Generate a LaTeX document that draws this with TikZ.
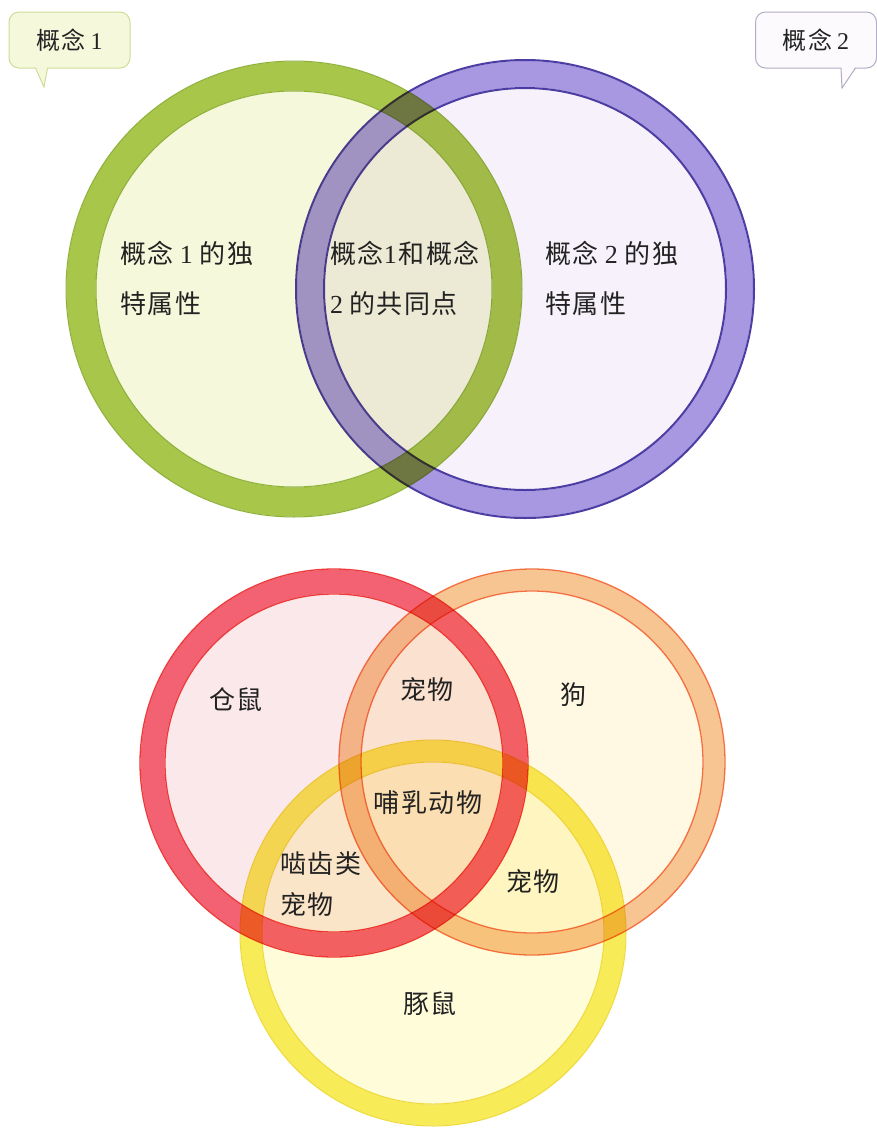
\documentclass[tikz,border=0pt]{standalone}
\usepackage{fontspec}
\setmainfont{Liberation Serif}
\newfontfamily\cjk[LetterSpace=6]{Noto Sans CJK SC}
\newcommand\zh[1]{{\cjk #1}}
\definecolor{textc}{HTML}{222222}
\definecolor{greenring}{HTML}{A8C64A}
\definecolor{greenedge}{HTML}{94B63A}
\definecolor{greenfill}{HTML}{F5F8DA}
\definecolor{purplering}{HTML}{A898E2}
\definecolor{purpleedge}{HTML}{4C3EA4}
\definecolor{purplefill}{HTML}{F6F1FA}
\definecolor{redring}{HTML}{F26272}
\definecolor{rededge}{HTML}{EF3B3B}
\definecolor{redfill}{HTML}{FBE8EB}
\definecolor{orangering}{HTML}{F7C592}
\definecolor{orangeedge}{HTML}{F5713F}
\definecolor{orangefill}{HTML}{FFF8E2}
\definecolor{yellowring}{HTML}{F8EB58}
\definecolor{yellowedge}{HTML}{F0DC3A}
\definecolor{yellowfill}{HTML}{FFFCDA}
\definecolor{cafill}{HTML}{F6F8DC}
\definecolor{caedge}{HTML}{CFDC98}
\definecolor{cbfill}{HTML}{FCFAFD}
\definecolor{cbedge}{HTML}{B4ACC4}
\begin{document}
\begin{tikzpicture}[x=1pt,y=-1pt,
  lbl/.style={text=textc, font=\fontsize{26}{50}\selectfont, inner sep=0pt},
  lbltwo/.style={text=textc, font=\fontsize{26}{41}\selectfont, inner sep=0pt},
  callout/.style={rounded corners=10pt, line width=1pt, minimum height=56pt,
    inner sep=0pt, text=textc, font=\fontsize{24}{28}\selectfont},
  edge/.style={line width=1.3pt}]
\useasboundingbox (0,0) rectangle (877,1128);
\fill[white] (0,0) rectangle (877,1128);
% ---------- top Venn ----------
\coordinate (gA) at (294,289);
\coordinate (pA) at (525,289);
\begin{scope}[blend mode=multiply]
  \fill[greenfill] (gA) circle[radius=197.5];
  \draw[greenring, line width=29pt] (gA) circle[radius=213];
  \draw[greenedge, line width=1pt] (gA) circle[radius=228] (gA) circle[radius=198];
  \fill[purplefill] (pA) circle[radius=200];
  \draw[purplering, line width=26pt] (pA) circle[radius=215];
  \draw[purpleedge, line width=2pt] (pA) circle[radius=229] (pA) circle[radius=201];
\end{scope}
\node[lbl, anchor=west, align=left] (t1) at (120,278)
  {\zh{概念}\hspace{6pt}1\hspace{7pt}\zh{的独}\\\zh{特属性}};
\node[lbl, anchor=west, align=left] (t2) at (330,278)
  {\zh{概念}1\hspace{2pt}\zh{和概念}\\2\hspace{6pt}\zh{的共同点}};
\node[lbl, anchor=west, align=left] (t3) at (545,278)
  {\zh{概念}\hspace{6pt}2\hspace{7pt}\zh{的独}\\\zh{特属性}};
% ---------- callouts ----------
\node[callout, draw=caedge, fill=cafill, minimum width=121pt] (c1) at (69.5,40)
  {\zh{概念}\hspace{5pt}1};
\fill[cafill] (35.5,66.5) -- (44,87) -- (47.5,66.5) -- cycle;
\draw[caedge, line width=1pt] (35.5,68) -- (44,87) -- (47.5,68);
\node[callout, draw=cbedge, fill=cbfill, minimum width=121pt] (c2) at (816,40)
  {\zh{概念}\hspace{5pt}2};
\fill[cbfill] (841,66.5) -- (842,88) -- (855.5,66.5) -- cycle;
\draw[cbedge, line width=1pt] (841,68) -- (842,88) -- (855.5,68);
% ---------- bottom Venn ----------
\coordinate (rA) at (334,763);
\coordinate (oA) at (532,762);
\coordinate (yA) at (433,933);
\begin{scope}[blend mode=multiply]
  \fill[redfill] (rA) circle[radius=168.35];
  \fill[orangefill] (oA) circle[radius=170.35];
  \fill[yellowfill] (yA) circle[radius=170.5];
  \draw[yellowring, line width=21pt] (yA) circle[radius=182];
  \draw[yellowedge, line width=1pt] (yA) circle[radius=193] (yA) circle[radius=171];
  \draw[orangering, line width=20.7pt] (oA) circle[radius=182];
  \draw[orangeedge, edge] (oA) circle[radius=193] (oA) circle[radius=171];
  \draw[redring, line width=23.7pt] (rA) circle[radius=181.5];
  \draw[rededge, edge] (rA) circle[radius=194] (rA) circle[radius=169];
\end{scope}
\node[lbl] (b1) at (236,700) {\zh{仓鼠}};
\node[lbl] (b2) at (427,690) {\zh{宠物}};
\node[lbl] (b3) at (573,695) {\zh{狗}};
\node[lbl] (b4) at (428,803) {\zh{哺乳动物}};
\node[lbltwo, anchor=west, align=left] (b5) at (280,884)
  {\zh{啮齿类}\\\zh{宠物}};
\node[lbl] (b6) at (533,882) {\zh{宠物}};
\node[lbl] (b7) at (430,1004) {\zh{豚鼠}};
\end{tikzpicture}
\end{document}
